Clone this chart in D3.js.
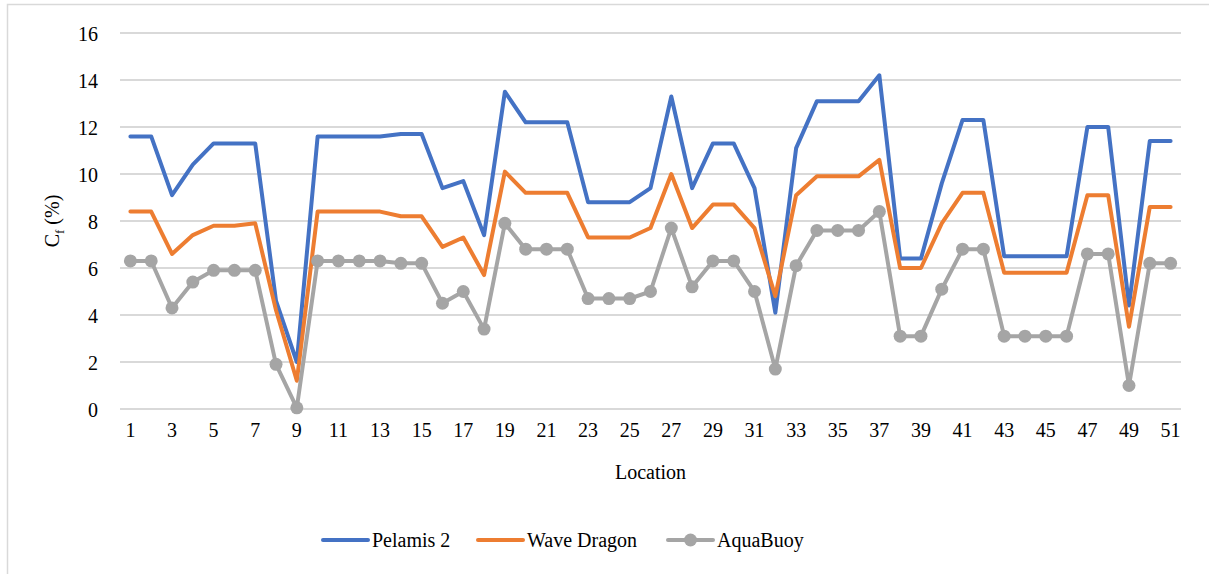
<!DOCTYPE html>
<html lang="en">
<head>
<meta charset="utf-8">
<title>Cf by location</title>
<script src="https://d3js.org/d3.v7.min.js"></script>
<style>
body { margin: 0; background: #fff; }
svg text { font-family: "Times New Roman", "Liberation Serif", Tinos, "DejaVu Serif", serif; fill: #000; }
.grid line { stroke: #d9d9d9; stroke-width: 2; }
</style>
</head>
<body>
<script>
var locations = d3.range(1, 52);

var pelamis = [11.6, 11.6, 9.1, 10.4, 11.3, 11.3, 11.3, 4.6, 2.0, 11.6,
               11.6, 11.6, 11.6, 11.7, 11.7, 9.4, 9.7, 7.4, 13.5, 12.2,
               12.2, 12.2, 8.8, 8.8, 8.8, 9.4, 13.3, 9.4, 11.3, 11.3,
               9.4, 4.1, 11.1, 13.1, 13.1, 13.1, 14.2, 6.4, 6.4, 9.6,
               12.3, 12.3, 6.5, 6.5, 6.5, 6.5, 12.0, 12.0, 4.4, 11.4, 11.4];

var waveDragon = [8.4, 8.4, 6.6, 7.4, 7.8, 7.8, 7.9, 4.2, 1.2, 8.4,
                  8.4, 8.4, 8.4, 8.2, 8.2, 6.9, 7.3, 5.7, 10.1, 9.2,
                  9.2, 9.2, 7.3, 7.3, 7.3, 7.7, 10.0, 7.7, 8.7, 8.7,
                  7.7, 4.8, 9.1, 9.9, 9.9, 9.9, 10.6, 6.0, 6.0, 7.9,
                  9.2, 9.2, 5.8, 5.8, 5.8, 5.8, 9.1, 9.1, 3.5, 8.6, 8.6];

var aquaBuoy = [6.3, 6.3, 4.3, 5.4, 5.9, 5.9, 5.9, 1.9, 0.05, 6.3,
                6.3, 6.3, 6.3, 6.2, 6.2, 4.5, 5.0, 3.4, 7.9, 6.8,
                6.8, 6.8, 4.7, 4.7, 4.7, 5.0, 7.7, 5.2, 6.3, 6.3,
                5.0, 1.7, 6.1, 7.6, 7.6, 7.6, 8.4, 3.1, 3.1, 5.1,
                6.8, 6.8, 3.1, 3.1, 3.1, 3.1, 6.6, 6.6, 1.0, 6.2, 6.2];

var yTicks = [0, 2, 4, 6, 8, 10, 12, 14, 16];
var xTicks = locations.filter(function(d) { return d % 2 === 1; });

var series = [
    {name: "Pelamis 2", values: pelamis, color: "#4472c4", marker: false},
    {name: "Wave Dragon", values: waveDragon, color: "#ed7d31", marker: false},
    {name: "AquaBuoy", values: aquaBuoy, color: "#a5a5a5", marker: true}
];

var width = 1209, height = 574;
var margin = {left: 120, right: 28, top: 33, bottom: 165};
var serif = '"Times New Roman", "Liberation Serif", Tinos, "DejaVu Serif", serif';

var svg = d3.select("body").append("svg")
    .attr("width", width)
    .attr("height", height);

// chart border (only top and left show in the crop)
svg.append("path")
    .attr("d", "M7.5,574V4.5H1209")
    .attr("fill", "none")
    .attr("stroke", "#d9d9d9")
    .attr("stroke-width", 1.5);

var x = d3.scaleBand()
    .domain(locations)
    .range([margin.left, width - margin.right]);

var y = d3.scaleLinear()
    .domain([0, 16])
    .range([height - margin.bottom, margin.top]);

var cx = function(d) { return x(d) + x.bandwidth() / 2; };

// gridlines
svg.append("g")
    .attr("class", "grid")
    .selectAll("line")
    .data(yTicks)
    .enter().append("line")
    .attr("x1", margin.left)
    .attr("x2", width - margin.right)
    .attr("y1", function(d) { return y(d); })
    .attr("y2", function(d) { return y(d); });

// y axis labels
var yAxis = d3.axisLeft(y).tickValues(yTicks).tickSize(0).tickPadding(22);
var gy = svg.append("g")
    .attr("transform", "translate(" + margin.left + ",0)")
    .call(yAxis)
    .attr("font-family", serif)
    .attr("font-size", 20);
gy.select(".domain").remove();
gy.selectAll("text").attr("dy", "0.35em");

// x axis labels
var xAxis = d3.axisBottom(x).tickValues(xTicks).tickSize(0).tickPadding(14);
var gx = svg.append("g")
    .attr("transform", "translate(0," + y(0) + ")")
    .call(xAxis)
    .attr("font-family", serif)
    .attr("font-size", 20);
gx.select(".domain").remove();

// axis titles
svg.append("text")
    .attr("x", (margin.left + width - margin.right) / 2)
    .attr("y", 479)
    .attr("text-anchor", "middle")
    .style("font-size", "20px")
    .text("Location");

var yt = svg.append("text")
    .attr("transform", "translate(59,221) rotate(-90)")
    .attr("text-anchor", "middle")
    .style("font-size", "20px");
yt.append("tspan").text("C");
yt.append("tspan").attr("dy", 5).style("font-size", "13px").text("f");
yt.append("tspan").attr("dy", -5).text(" (%)");

// lines
var line = d3.line()
    .x(function(d, i) { return cx(locations[i]); })
    .y(function(d) { return y(d); });

series.forEach(function(s) {
    svg.append("path")
        .datum(s.values)
        .attr("fill", "none")
        .attr("stroke", s.color)
        .attr("stroke-width", 4)
        .attr("stroke-linejoin", "round")
        .attr("stroke-linecap", "round")
        .attr("d", line);
    if (s.marker) {
        svg.append("g")
            .selectAll("circle")
            .data(s.values)
            .enter().append("circle")
            .attr("cx", function(d, i) { return cx(locations[i]); })
            .attr("cy", function(d) { return y(d); })
            .attr("r", 6.5)
            .attr("fill", s.color);
    }
});

// legend
var legendX = [323, 478, 668];
var lg = svg.append("g").selectAll("g")
    .data(series)
    .enter().append("g")
    .attr("transform", function(d, i) { return "translate(" + legendX[i] + ",540)"; });

lg.append("line")
    .attr("x1", 0).attr("x2", 45)
    .attr("stroke", function(d) { return d.color; })
    .attr("stroke-width", 4)
    .attr("stroke-linecap", "round");

lg.filter(function(d) { return d.marker; })
    .append("circle")
    .attr("cx", 22.5)
    .attr("r", 6.5)
    .attr("fill", function(d) { return d.color; });

lg.append("text")
    .attr("x", 49)
    .attr("dy", "0.35em")
    .style("font-size", "20px")
    .text(function(d) { return d.name; });
</script>
</body>
</html>
